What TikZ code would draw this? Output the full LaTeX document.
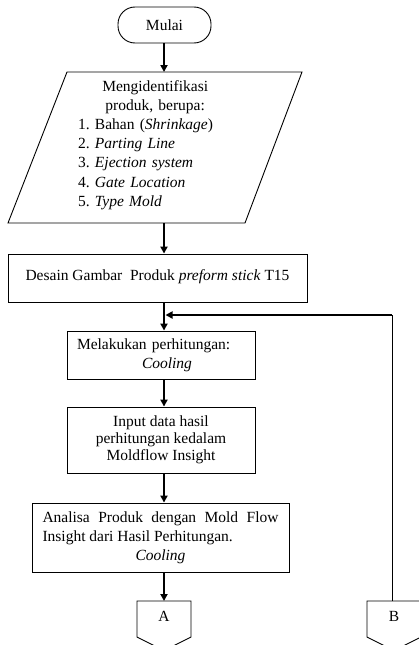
\documentclass[tikz,border=0pt]{standalone}
\usepackage{fontspec}
\setmainfont{Liberation Serif}[ItalicFont={Liberation Serif Italic},BoldFont={Liberation Serif Bold}]
\usetikzlibrary{calc,positioning,arrows.meta}
\frenchspacing

\begin{document}
\begin{tikzpicture}[x=1pt,y=-1pt,
  font=\fontsize{15.5}{19.2}\selectfont,
  procbox/.style={draw,line width=0.9pt,inner sep=0pt},
  flowarrow/.style={line width=1.8pt,-{Triangle[length=7pt,width=7pt]}}]
  \useasboundingbox (0,0) rectangle (419,645);
  \coordinate (spine) at (164,0);
  % start
  \node[procbox,rounded corners=17pt,minimum width=93pt,minimum height=36pt] (mulai) at (164.5,25) {Mulai};
  % input data (parallelogram)
  \draw[line width=0.9pt] (67,72) -- (302,72) -- (245,223) -- (8,223) -- cycle;
  \coordinate (identN) at (164,72);
  \coordinate (identS) at (164,223);
  \node[anchor=north west,text width=154pt,align=left,inner sep=0pt] (ident) at (78,80)
    {\makebox[\linewidth]{Mengidentifikasi}\\
     \makebox[\linewidth]{produk, berupa:}\\
     1. Bahan (\textit{Shrinkage})\\
     2. \textit{Parting Line}\\
     3. \textit{Ejection system}\\
     4. \textit{Gate Location}\\
     5. \textit{Type Mold}};
  % process boxes
  \node[procbox,minimum width=299pt,minimum height=48pt] (desain) at (157.5,278)
    {\raisebox{5pt}{Desain Gambar\ \ Produk \textit{preform stick} T15}};
  \node[procbox,minimum width=188pt,minimum height=48pt,text width=168pt,align=left] (hitung) at (161,355)
    {Melakukan perhitungan:\\ \hspace*{65pt}\textit{Cooling}};
  \node[procbox,minimum width=188pt,minimum height=66pt,align=center,
    font=\fontsize{15.5}{17.2}\selectfont] (input) at (161,440)
    {Input data hasil\\perhitungan kedalam\\Moldflow Insight};
  \node[procbox,minimum width=257pt,minimum height=69pt,text width=236pt,align=justify] (analisa) at (160.5,537.5)
    {Analisa Produk dengan Mold Flow\linebreak Insight dari Hasil Perhitungan.\par
     {\centering\textit{Cooling}\par}};
  % off-page connectors
  \coordinate (konA) at (164,601);
  \draw[line width=0.9pt] (konA) -- ++(27,0) -- ++(0,36) -- ++(-27,13.5) -- ++(-27,-13.5) -- ++(0,-36) -- cycle;
  \node (labA) at ($(konA)+(0,15)$) {A};
  \coordinate (konB) at (392,601);
  \draw[line width=0.9pt] ($(konB)+(-25,0)$) -- ++(54,0) -- ++(0,36) -- ++(-27,13.5) -- ++(-27,-13.5) -- ++(0,-36) -- cycle;
  \node (labB) at ($(konB)+(2,15)$) {B};
  % flow
  \draw[flowarrow] (mulai.south -| spine) -- (identN);
  \draw[flowarrow] (identS) -- (desain.north -| spine);
  \draw[flowarrow] (desain.south -| spine) -- (hitung.north -| spine);
  \draw[flowarrow] (hitung.south -| spine) -- (input.north -| spine);
  \draw[flowarrow] (input.south -| spine) -- (analisa.north -| spine);
  \draw[flowarrow] (analisa.south -| spine) -- (konA);
  % loop back
  \coordinate (gabung) at (165.5,315);
  \draw[line width=0.9pt] (konB) -- (konB |- gabung);
  \draw[flowarrow] ($(konB |- gabung)+(0.45,0)$) -- (gabung);
\end{tikzpicture}
\end{document}
